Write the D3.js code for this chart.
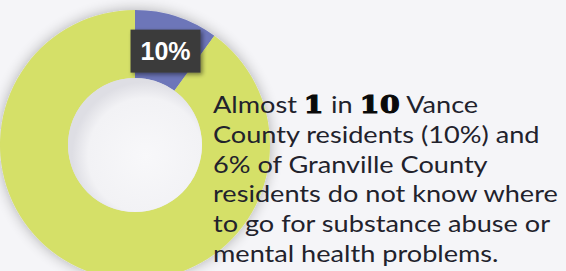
<!DOCTYPE html>
<html>
<head>
<meta charset="utf-8">
<script src="https://cdn.jsdelivr.net/npm/d3@7"></script>
<style>
  html, body { margin: 0; padding: 0; background: #f5f5f8; overflow: hidden; }
  svg { display: block; }
</style>
</head>
<body>
<svg id="chart"></svg>
<script>
// share of Vance County residents who don't know where to go
const categories = ["Do not know", "Know"];
const shares = [10, 90];
const sliceColors = ["#6d76b9", "#d5e068"];
const calloutLabel = "10%";

// text block, first line has the emphasised numbers
const firstLine = [
  { t: "Almost ", big: false },
  { t: "1", big: true },
  { t: " in ", big: false },
  { t: "10", big: true },
  { t: " Vance", big: false }
];
const otherLines = [
  "County residents (10%) and",
  "6% of Granville County",
  "residents do not know where",
  "to go for substance abuse or",
  "mental health problems."
];

const width = 566, height = 271;
const svg = d3.select("#chart").attr("width", width).attr("height", height);

const defs = svg.append("defs");
// soft grey halo around the ring
const shadow = defs.append("filter").attr("id", "ringShadow")
  .attr("x", "-20%").attr("y", "-20%").attr("width", "140%").attr("height", "140%");
shadow.append("feGaussianBlur").attr("in", "SourceAlpha").attr("stdDeviation", 7).attr("result", "blur");
shadow.append("feComponentTransfer").attr("in", "blur").attr("result", "faded")
  .append("feFuncA").attr("type", "linear").attr("slope", 0.3);
let merge = shadow.append("feMerge");
merge.append("feMergeNode").attr("in", "faded");
merge.append("feMergeNode").attr("in", "SourceGraphic");

const boxShadow = defs.append("filter").attr("id", "boxShadow")
  .attr("x", "-30%").attr("y", "-30%").attr("width", "160%").attr("height", "160%");
boxShadow.append("feGaussianBlur").attr("in", "SourceAlpha").attr("stdDeviation", 2).attr("result", "b");
boxShadow.append("feOffset").attr("in", "b").attr("dx", 2).attr("dy", 2).attr("result", "o");
boxShadow.append("feComponentTransfer").attr("in", "o").attr("result", "f")
  .append("feFuncA").attr("type", "linear").attr("slope", 0.45);
merge = boxShadow.append("feMerge");
merge.append("feMergeNode").attr("in", "f");
merge.append("feMergeNode").attr("in", "SourceGraphic");

// inner hole shading
const holeGrad = defs.append("radialGradient").attr("id", "holeGrad")
  .attr("cx", "58%").attr("cy", "58%").attr("r", "55%");
holeGrad.append("stop").attr("offset", "0%").attr("stop-color", "#f8f8fa");
holeGrad.append("stop").attr("offset", "78%").attr("stop-color", "#f2f2f5");
holeGrad.append("stop").attr("offset", "100%").attr("stop-color", "#dedee4");

const cx = 135, cy = 145, outerR = 135, innerR = 67;

const pie = d3.pie().sort(null).value(d => d);
const arc = d3.arc().innerRadius(innerR).outerRadius(outerR);
const color = d3.scaleOrdinal().domain(categories).range(sliceColors);

const ring = svg.append("g").attr("transform", `translate(${cx},${cy})`);
ring.append("g").attr("filter", "url(#ringShadow)")
  .selectAll("path")
  .data(pie(shares))
  .join("path")
  .attr("d", arc)
  .attr("fill", (d, i) => color(categories[i]));

ring.append("circle").attr("r", innerR).attr("fill", "url(#holeGrad)");

// callout on the small slice
const slice = pie(shares)[0];
const labelArc = d3.arc().innerRadius(outerR - 20).outerRadius(outerR - 20);
const lp = labelArc.centroid(slice);
const callout = ring.append("g").attr("transform", `translate(${lp[0] - 5},${lp[1] + 15})`);
callout.append("rect")
  .attr("x", -35).attr("y", -21).attr("width", 70).attr("height", 43)
  .attr("fill", "#3a3a3a")
  .attr("filter", "url(#boxShadow)");
callout.append("text")
  .attr("text-anchor", "middle")
  .attr("y", 9)
  .attr("fill", "#ffffff")
  .attr("font-family", "Arial, 'Liberation Sans', sans-serif")
  .attr("font-weight", "bold")
  .attr("font-size", 25)
  .text(calloutLabel);

// text block (stretched sideways to mimic the wide geometric face)
const textX = 213, firstBase = 113, lineGap = 29.8, widestLine = 345;
const txt = svg.append("g")
  .attr("font-family", "'Lato', 'DejaVu Sans', sans-serif")
  .attr("font-size", 23)
  .attr("fill", "#22222c");

const l1 = txt.append("text").attr("x", 0).attr("y", firstBase);
l1.selectAll("tspan")
  .data(firstLine)
  .join("tspan")
  .attr("font-family", d => d.big ? "'DejaVu Serif', serif" : null)
  .attr("font-weight", d => d.big ? "bold" : null)
  .attr("font-size", d => d.big ? 24 : null)
  .attr("letter-spacing", d => d.big ? 0.5 : null)
  .attr("fill", d => d.big ? "#0a0a0a" : null)
  .attr("stroke", d => d.big ? "#0a0a0a" : null)
  .attr("stroke-width", d => d.big ? 1.1 : null)
  .style("white-space", "pre")
  .text(d => d.t);

const rows = txt.selectAll("text.line")
  .data(otherLines)
  .join("text")
  .attr("class", "line")
  .attr("x", 0)
  .attr("y", (d, i) => firstBase + (i + 1) * lineGap)
  .text(d => d);

const measured = d3.max(rows.nodes(), n => n.getComputedTextLength());
const sx = widestLine / measured;
txt.attr("transform", `translate(${textX},0) scale(${sx},1)`);
</script>
</body>
</html>
